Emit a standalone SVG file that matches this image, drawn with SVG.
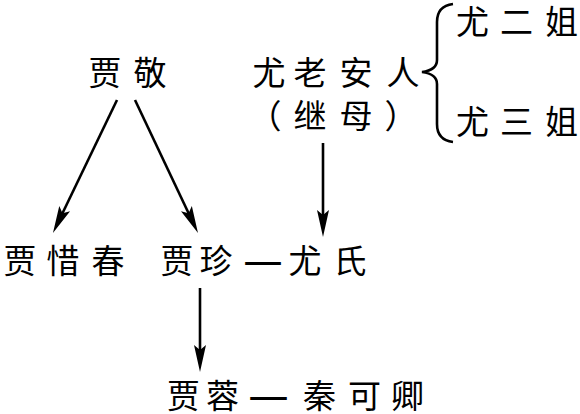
<svg xmlns="http://www.w3.org/2000/svg" width="580" height="414" viewBox="0 0 580 414">
<style>
text{font-family:"Noto Sans CJK SC","Noto Sans CJK JP",sans-serif;font-size:33px;fill:#000}
.dash{font-weight:bold}
.ln{stroke:#000;stroke-width:2.6;fill:none}
</style>
<defs>
<marker id="ah" markerUnits="userSpaceOnUse" markerWidth="30" markerHeight="16" viewBox="0 -8 30 16" refX="17" refY="0" orient="auto">
<path d="M0,-6 L27,0 L0,6 L5,0 Z" fill="#000"/>
</marker>
</defs>
<rect width="580" height="414" fill="#fff"/>
<g id="connectors">
<line class="ln" x1="117" y1="100" x2="57.3" y2="224" marker-end="url(#ah)"/>
<line class="ln" x1="135" y1="100" x2="193.7" y2="224" marker-end="url(#ah)"/>
<line class="ln" x1="323" y1="143" x2="323" y2="227" marker-end="url(#ah)"/>
<line class="ln" x1="200" y1="288" x2="200" y2="362" marker-end="url(#ah)"/>
<path class="ln" d="M453,4 Q437,6 437,22 L437,60 Q437,70 422,72 Q437,74 437,84 L437,124 Q437,140 453,142"/>
</g>
<g id="jiajing"><text x="88.5 133.5" y="85">贾敬</text></g>
<g id="youlaoanren">
<text x="252.5 293.5 339.5 386.5" y="85">尤老安人</text>
<text x="248.5 293.5 339.5 384.5" y="128">（继母）</text>
</g>
<g id="youerjie"><text x="456 500 545" y="34">尤二姐</text></g>
<g id="yousanjie"><text x="456 500 545" y="134">尤三姐</text></g>
<g id="jiaxichun"><text x="3.5 46.5 91.5" y="273">贾惜春</text></g>
<g id="jiazhen"><text x="160.5 199.5" y="273">贾珍</text></g>
<g id="link1"><text class="dash" x="243" y="273" textLength="40" lengthAdjust="spacingAndGlyphs">—</text></g>
<g id="youshi"><text x="288.5 333.5" y="273">尤氏</text></g>
<g id="jiarong"><text x="167 206" y="408">贾蓉</text></g>
<g id="link2"><text class="dash" x="248" y="408" textLength="41" lengthAdjust="spacingAndGlyphs">—</text></g>
<g id="qinkeqing"><text x="303 348 391" y="408">秦可卿</text></g>
</svg>
